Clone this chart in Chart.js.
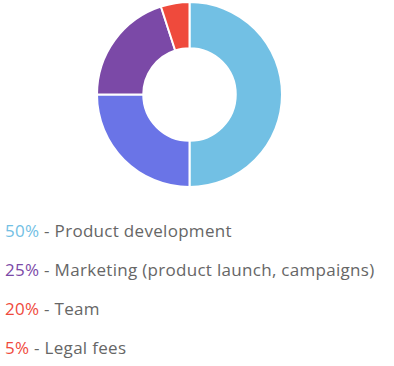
<!DOCTYPE html>
<html>
<head>
<meta charset="utf-8">
<script src="https://cdn.jsdelivr.net/npm/chart.js@4/dist/chart.umd.min.js"></script>
<style>
    html, body {
        margin: 0;
        padding: 0;
        background: #fff;
        width: 394px;
        height: 366px;
        overflow: hidden;
        font-family: "Open Sans", sans-serif;
    }
    .chart-box {
        position: absolute;
        left: 0;
        top: 1px;
        width: 379px;
        height: 187px;
    }
    .budget-legend {
        position: absolute;
        left: 5px;
        top: 218px;
        margin: 0;
        padding: 0;
        list-style: none;
    }
    .budget-legend li {
        height: 39px;
        line-height: 26px;
        font-size: 17px;
        letter-spacing: 0.3px;
        color: #666;
        white-space: nowrap;
    }
</style>
</head>
<body>
<div class="chart-box"><canvas id="budgetChart"></canvas></div>
<ul class="budget-legend" id="budgetLegend"></ul>

<script>
// Budget split
const labels = ['Product development', 'Marketing (product launch, campaigns)', 'Team', 'Legal fees'];
const shares = [50, 25, 20, 5];
const sliceColors = ['#72c0e4', '#6a74e7', '#7b49a7', '#ef4a3c'];
const legendColors = ['#72c0e4', '#7b49a7', '#ef4a3c', '#ef4a3c'];

/**
 * Build legend list
 */
function buildLegend() {
    const list = document.getElementById('budgetLegend');
    labels.forEach((label, i) => {
        const li = document.createElement('li');
        const pct = document.createElement('span');
        pct.style.color = legendColors[i];
        pct.textContent = shares[i] + '%';
        li.appendChild(pct);
        li.appendChild(document.createTextNode(' - ' + label));
        list.appendChild(li);
    });
}

/**
 * Initialize doughnut chart
 */
function initializeBudgetChart() {
    const ctx = document.getElementById('budgetChart');
    new Chart(ctx, {
        type: 'doughnut',
        data: {
            labels: labels,
            datasets: [{
                data: shares,
                backgroundColor: sliceColors,
                borderColor: '#fff',
                borderWidth: 2
            }]
        },
        options: {
            responsive: true,
            maintainAspectRatio: false,
            animation: false,
            cutout: '50%',
            layout: { padding: 0 },
            plugins: {
                legend: { display: false },
                tooltip: { enabled: false }
            }
        }
    });
}

buildLegend();
initializeBudgetChart();
</script>
</body>
</html>
